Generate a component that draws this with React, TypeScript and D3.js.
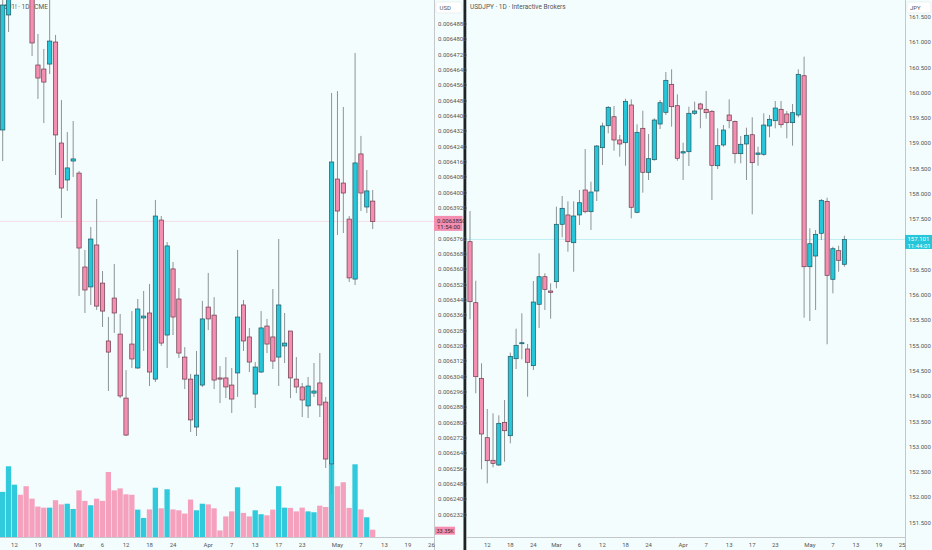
import React, { useEffect, useRef } from 'react';
import { select, scaleLinear, range } from 'd3';

// left pane: yen futures, daily
const leftOpen = [0.0064327, 0.0064927, 0.0065120, 0.0065318, 0.0065188, 0.0065057, 0.0064666, 0.0064645, 0.0064671, 0.0064786, 0.0064259, 0.0064066, 0.0064165, 0.0064102, 0.0063612, 0.0063508, 0.0063727, 0.0063528, 0.0063226, 0.0063450, 0.0063262, 0.0062928, 0.0063210, 0.0063085, 0.0063346, 0.0063372, 0.0063027, 0.0063857, 0.0063257, 0.0063602, 0.0063445, 0.0063142, 0.0063027, 0.0062777, 0.0062996, 0.0063403, 0.0063361, 0.0063033, 0.0063033, 0.0062996, 0.0063059, 0.0063414, 0.0063247, 0.0062949, 0.0063064, 0.0063304, 0.0063247, 0.0063142, 0.0063200, 0.0063278, 0.0063027, 0.0062986, 0.0062887, 0.0062954, 0.0063007, 0.0062907, 0.0062584, 0.0064071, 0.0064050, 0.0063862, 0.0063549, 0.0064202, 0.0063925, 0.0063956];
const leftClose = [0.0064979, 0.0065110, 0.0065318, 0.0065162, 0.0065057, 0.0064781, 0.0064598, 0.0064577, 0.0064791, 0.0064301, 0.0064024, 0.0064129, 0.0064176, 0.0063711, 0.0063492, 0.0063758, 0.0063408, 0.0063382, 0.0063168, 0.0063372, 0.0062939, 0.0062735, 0.0063132, 0.0063393, 0.0063356, 0.0063064, 0.0063878, 0.0063215, 0.0063722, 0.0063351, 0.0063163, 0.0063027, 0.0062814, 0.0063048, 0.0063341, 0.0063341, 0.0063022, 0.0063027, 0.0062986, 0.0062923, 0.0063351, 0.0063226, 0.0063116, 0.0063090, 0.0063294, 0.0063210, 0.0063121, 0.0063414, 0.0063215, 0.0063033, 0.0062986, 0.0062918, 0.0062991, 0.0062965, 0.0062892, 0.0062610, 0.0064160, 0.0063904, 0.0063998, 0.0063555, 0.0064155, 0.0063998, 0.0064009, 0.0063850];
const leftHigh = [0.0065005, 0.0065162, 0.0065371, 0.0065397, 0.0065266, 0.0065084, 0.0064828, 0.0064750, 0.0065031, 0.0064823, 0.0064483, 0.0064316, 0.0064374, 0.0064113, 0.0063701, 0.0063821, 0.0063967, 0.0063591, 0.0063351, 0.0063628, 0.0063367, 0.0063074, 0.0063382, 0.0063445, 0.0063487, 0.0063523, 0.0063962, 0.0063878, 0.0063742, 0.0063638, 0.0063502, 0.0063194, 0.0063054, 0.0063174, 0.0063435, 0.0063581, 0.0063455, 0.0063095, 0.0063142, 0.0063085, 0.0063701, 0.0063440, 0.0063294, 0.0063116, 0.0063382, 0.0063341, 0.0063497, 0.0063758, 0.0063372, 0.0063278, 0.0063142, 0.0063007, 0.0063038, 0.0063111, 0.0063163, 0.0062934, 0.0064520, 0.0064530, 0.0064447, 0.0063878, 0.0064729, 0.0064296, 0.0064118, 0.0064014];
const leftLow = [0.0064165, 0.0064838, 0.0065084, 0.0065110, 0.0065031, 0.0064713, 0.0064489, 0.0064363, 0.0064619, 0.0064092, 0.0063868, 0.0064009, 0.0064082, 0.0063461, 0.0063372, 0.0063414, 0.0063388, 0.0063299, 0.0062965, 0.0063268, 0.0062928, 0.0062730, 0.0063085, 0.0063080, 0.0063174, 0.0062991, 0.0063012, 0.0063200, 0.0063085, 0.0063257, 0.0063137, 0.0062975, 0.0062751, 0.0062730, 0.0062986, 0.0063283, 0.0062975, 0.0062902, 0.0062928, 0.0062850, 0.0062934, 0.0063174, 0.0063064, 0.0062876, 0.0063059, 0.0063163, 0.0063080, 0.0062991, 0.0063111, 0.0062928, 0.0062954, 0.0062829, 0.0062824, 0.0062934, 0.0062829, 0.0062563, 0.0062427, 0.0063779, 0.0063789, 0.0063534, 0.0063518, 0.0063904, 0.0063894, 0.0063810];
// volume in thousands
const leftVolume = [206, 323, 239, 193, 232, 175, 139, 134, 134, 168, 149, 152, 128, 213, 165, 145, 175, 165, 297, 213, 222, 195, 193, 125, 87, 126, 225, 131, 218, 126, 122, 107, 171, 122, 152, 149, 131, 30, 94, 117, 227, 110, 94, 122, 104, 99, 125, 232, 134, 133, 117, 134, 117, 113, 143, 137, 332, 232, 250, 133, 332, 126, 90, 33.35];
const leftDateLabels = ['12', '19', 'Mar', '6', '12', '18', '24', 'Apr', '7', '13', '17', '23', 'May', '7', '13', '19', '26'];
const leftDateBars = [2, 6, 13, 17, 21, 25, 29, 35, 39, 43, 47, 51, 57, 61, 65, 69, 73];

// right pane: USDJPY, daily
const rightOpen = [157.057, 155.850, 154.355, 153.181, 152.734, 152.641, 153.485, 153.220, 154.743, 155.040, 154.935, 154.605, 155.819, 156.364, 156.082, 156.266, 157.401, 157.585, 157.037, 157.585, 158.079, 157.650, 158.059, 158.915, 159.350, 159.528, 159.068, 159.014, 159.760, 157.638, 159.299, 158.429, 158.678, 159.384, 159.615, 160.169, 159.746, 158.811, 158.836, 159.596, 159.780, 159.675, 159.635, 158.559, 158.969, 159.562, 159.437, 158.797, 158.989, 159.172, 158.785, 158.785, 159.345, 159.449, 159.675, 159.582, 159.410, 159.562, 160.339, 156.562, 156.774, 157.223, 157.855, 156.313, 156.879, 156.610];
const rightClose = [155.870, 154.387, 153.254, 152.726, 152.674, 153.465, 153.319, 154.790, 155.008, 155.059, 154.672, 155.864, 156.364, 156.115, 156.056, 157.401, 157.717, 157.057, 157.565, 157.828, 157.650, 158.039, 158.949, 159.345, 159.714, 159.068, 158.989, 159.833, 157.737, 159.220, 158.429, 158.698, 159.463, 159.805, 160.248, 159.726, 158.706, 158.836, 159.596, 159.641, 159.681, 159.608, 158.567, 158.955, 159.265, 159.449, 158.797, 158.983, 159.161, 158.619, 158.811, 159.364, 159.477, 159.700, 159.370, 159.410, 159.608, 160.367, 156.562, 157.017, 157.203, 157.875, 156.392, 156.918, 156.689, 157.101];
const rightHigh = [157.664, 156.285, 154.652, 153.748, 153.663, 153.624, 153.926, 154.862, 155.336, 155.641, 155.034, 156.279, 156.827, 156.432, 156.234, 157.749, 157.960, 157.855, 157.855, 158.079, 158.890, 158.243, 158.969, 159.410, 159.740, 159.740, 159.167, 159.884, 159.872, 159.378, 159.647, 159.186, 159.497, 159.859, 160.412, 160.466, 159.971, 159.014, 159.726, 159.825, 159.805, 160.037, 159.661, 159.299, 159.364, 159.872, 159.450, 159.147, 159.311, 159.517, 158.935, 159.596, 159.562, 159.839, 159.839, 159.641, 159.780, 160.466, 160.715, 157.322, 157.288, 157.901, 157.927, 156.958, 156.977, 157.175];
const rightLow = [155.522, 154.059, 152.556, 152.279, 152.595, 152.620, 152.706, 153.070, 154.539, 154.731, 153.991, 154.519, 155.350, 155.706, 155.534, 156.135, 157.144, 156.859, 156.463, 157.387, 157.618, 157.288, 157.861, 158.573, 159.200, 158.856, 158.737, 158.559, 157.519, 157.620, 158.026, 158.277, 158.660, 159.285, 159.562, 159.331, 158.658, 158.277, 158.554, 159.562, 159.299, 159.489, 157.881, 158.494, 158.935, 159.299, 158.607, 158.607, 158.277, 157.598, 158.559, 158.757, 159.121, 159.299, 159.311, 159.101, 158.955, 159.517, 155.554, 155.488, 155.706, 157.090, 155.028, 156.036, 156.463, 156.562];
const rightDateLabels = ['12', '18', '24', 'Mar', '6', '12', '18', '24', 'Apr', '7', '13', '17', '23', 'May', '7', '13', '19', '25'];
const rightDateBars = [3, 7, 11, 15, 19, 23, 27, 31, 37, 41, 45, 49, 53, 59, 63, 67, 71, 75];

const leftTicks = range(0, 34).map(k => 0.006488 - k * 0.000008);
const rightTicks = range(0, 21).map(k => 161.5 - k * 0.5);

const UP = '#26c6da';
const DOWN = '#f48fb1';
const BG = '#f4fdfd';
const FONT = 'Roboto, "Liberation Sans", sans-serif';

const App: React.FC = () => {
    const svgRef = useRef<SVGSVGElement>(null);

    useEffect(() => {
        if (!svgRef.current) return;
        const svg = select(svgRef.current);
        svg.html('');

        const W = 932, H = 550, bottom = 537;

        svg.append('rect').attr('width', W).attr('height', H).attr('fill', BG);

        const defs = svg.append('defs');
        defs.append('clipPath').attr('id', 'clip-left')
            .append('rect').attr('x', 0).attr('y', 0).attr('width', 434).attr('height', bottom);
        defs.append('clipPath').attr('id', 'clip-right')
            .append('rect').attr('x', 467).attr('y', 0).attr('width', 438).attr('height', bottom);

        const vScale = scaleLinear().domain([0, 332]).range([bottom, 464.3]);

        const drawPane = (opts: any) => {
            const { open, close, high, low, x, y, clip, bodyW } = opts;
            const g = svg.append('g').attr('clip-path', `url(#${clip})`);
            const n = Math.min(open.length, close.length, high.length, low.length);
            const idx = range(n);

            if (opts.volume) {
                g.selectAll('rect.vol')
                    .data(idx)
                    .enter()
                    .append('rect')
                    .attr('class', 'vol')
                    .attr('x', i => x(i) - 2.7)
                    .attr('width', 5.3)
                    .attr('y', i => vScale(opts.volume[i]))
                    .attr('height', i => bottom - vScale(opts.volume[i]))
                    .attr('fill', i => close[i] >= open[i] ? UP : DOWN)
                    .attr('opacity', i => close[i] >= open[i] ? 0.95 : 0.85);
            }

            // last price line
            g.append('line')
                .attr('x1', 0).attr('x2', W)
                .attr('y1', y(close[n - 1])).attr('y2', y(close[n - 1]))
                .attr('stroke', opts.lineColor)
                .attr('stroke-width', 1);

            g.selectAll('line.wick')
                .data(idx)
                .enter()
                .append('line')
                .attr('class', 'wick')
                .attr('x1', i => x(i)).attr('x2', i => x(i))
                .attr('y1', i => y(high[i])).attr('y2', i => y(low[i]))
                .attr('stroke', '#8c9396')
                .attr('stroke-width', 1);

            g.selectAll('rect.body')
                .data(idx)
                .enter()
                .append('rect')
                .attr('class', 'body')
                .attr('x', i => x(i) - bodyW / 2)
                .attr('width', bodyW)
                .attr('y', i => Math.min(y(open[i]), y(close[i])))
                .attr('height', i => Math.max(1, Math.abs(y(open[i]) - y(close[i]))))
                .attr('fill', i => close[i] >= open[i] ? UP : DOWN)
                .attr('stroke', i => close[i] >= open[i] ? '#1d5660' : '#6b3a4a')
                .attr('stroke-width', 0.7);
        };

        // ----- left pane -----
        const xl = scaleLinear().domain([0, 73]).range([2.7, 2.7 + 73 * 5.873]);
        const yl = scaleLinear().domain([0.006488, 0.006232]).range([24, 514.6]);

        svg.append('text')
            .attr('x', 4).attr('y', 9)
            .style('font-family', FONT).style('font-size', '6.5px').style('fill', '#555')
            .text('6J1! · 1D · CME');

        drawPane({
            open: leftOpen, close: leftClose, high: leftHigh, low: leftLow,
            volume: leftVolume, x: xl, y: yl, clip: 'clip-left', bodyW: 4.3,
            lineColor: 'rgba(244,143,177,0.3)'
        });

        // ----- right pane -----
        const xr = scaleLinear().domain([0, 75]).range([470, 470 + 75 * 5.76]);
        const yr = scaleLinear().domain([161.5, 151.5]).range([17, 522.7]);

        svg.append('text')
            .attr('x', 470).attr('y', 9)
            .style('font-family', FONT).style('font-size', '6.5px').style('fill', '#555')
            .text('USDJPY · 1D · Interactive Brokers');

        drawPane({
            open: rightOpen, close: rightClose, high: rightHigh, low: rightLow,
            x: xr, y: yr, clip: 'clip-right', bodyW: 4.2,
            lineColor: 'rgba(38,198,218,0.25)'
        });

        // axes frame
        const frame = svg.append('g').attr('stroke', '#c4c8cb').attr('stroke-width', 1);
        frame.append('line').attr('x1', 434.5).attr('x2', 434.5).attr('y1', 0).attr('y2', H);
        frame.append('line').attr('x1', 0).attr('x2', 434.5).attr('y1', bottom + 0.5).attr('y2', bottom + 0.5);
        frame.append('line').attr('x1', 905.5).attr('x2', 905.5).attr('y1', 0).attr('y2', H);
        frame.append('line').attr('x1', 467).attr('x2', 905.5).attr('y1', bottom + 0.5).attr('y2', bottom + 0.5);

        svg.append('rect').attr('x', 463.5).attr('y', 0).attr('width', 2.8).attr('height', H).attr('fill', '#1c2226');

        const label = (sel: any) => sel
            .style('font-family', FONT).style('font-size', '6px').style('fill', '#555');

        const lastL = leftClose[leftClose.length - 1];
        const ly = yl(lastL);
        const lastR = rightClose[rightClose.length - 1];
        const ry = yr(lastR);
        const lastV = leftVolume[leftVolume.length - 1];
        const vy = vScale(lastV);

        // price labels (those under a tag are hidden, as on the platform)
        svg.append('g').selectAll('text')
            .data(leftTicks.filter(d => Math.abs(yl(d) - ly - 2) > 9 && Math.abs(yl(d) - vy) > 7))
            .enter().append('text')
            .attr('x', 438).attr('y', d => yl(d) + 2)
            .call(label)
            .text(d => d.toFixed(7));

        svg.append('g').selectAll('text')
            .data(rightTicks.filter(d => Math.abs(yr(d) - ry - 2.5) > 9))
            .enter().append('text')
            .attr('x', 909).attr('y', d => yr(d) + 2)
            .call(label)
            .text(d => d.toFixed(3));

        // currency boxes
        svg.append('rect').attr('x', 436).attr('y', 2).attr('width', 26).attr('height', 11)
            .attr('rx', 2).attr('fill', '#ffffff').attr('stroke', '#e3e7ea').attr('stroke-width', 0.6);
        svg.append('text').attr('x', 439.5).attr('y', 10).call(label).text('USD');
        svg.append('rect').attr('x', 907).attr('y', 2).attr('width', 24).attr('height', 11)
            .attr('rx', 2).attr('fill', '#ffffff').attr('stroke', '#e3e7ea').attr('stroke-width', 0.6);
        svg.append('text').attr('x', 910).attr('y', 10).call(label).text('JPY');

        // date labels
        svg.append('g').selectAll('text')
            .data(leftDateBars)
            .enter().append('text')
            .attr('x', d => xl(d)).attr('y', 547)
            .attr('text-anchor', 'middle')
            .call(label)
            .text((d, i) => leftDateLabels[i]);

        svg.append('g').selectAll('text')
            .data(rightDateBars)
            .enter().append('text')
            .attr('x', d => xr(d)).attr('y', 547)
            .attr('text-anchor', 'middle')
            .call(label)
            .text((d, i) => rightDateLabels[i]);

        // last price tags
        svg.append('rect').attr('x', 434).attr('y', ly - 5.5).attr('width', 28.5).attr('height', 15).attr('fill', DOWN);
        svg.append('text').attr('x', 437).attr('y', ly + 1.5)
            .style('font-family', FONT).style('font-size', '6px').style('fill', '#3d2630')
            .text(lastL.toFixed(7));
        svg.append('text').attr('x', 437).attr('y', ly + 8)
            .style('font-family', FONT).style('font-size', '6px').style('fill', '#3d2630')
            .text('11:54:00');

        svg.append('rect').attr('x', 905).attr('y', ry - 4.5).attr('width', 27).attr('height', 14).attr('fill', UP);
        svg.append('text').attr('x', 907.5).attr('y', ry + 2)
            .style('font-family', FONT).style('font-size', '6px').style('fill', '#f4ffff')
            .text(lastR.toFixed(3));
        svg.append('text').attr('x', 907.5).attr('y', ry + 8.5)
            .style('font-family', FONT).style('font-size', '6px').style('fill', '#f4ffff')
            .text('11:44:01');

        // volume tag
        svg.append('rect').attr('x', 435).attr('y', vy - 3).attr('width', 20).attr('height', 8).attr('fill', DOWN);
        svg.append('text').attr('x', 436.5).attr('y', vy + 3)
            .style('font-family', FONT).style('font-size', '5.5px').style('fill', '#3d2630')
            .text(`${lastV.toFixed(2)}K`);
    }, []);

    return (
        <div style={{ position: 'fixed', left: 0, top: 0, width: 932, height: 550 }}>
            <svg ref={svgRef} width={932} height={550} style={{ display: 'block' }}></svg>
        </div>
    );
};

export default App;
